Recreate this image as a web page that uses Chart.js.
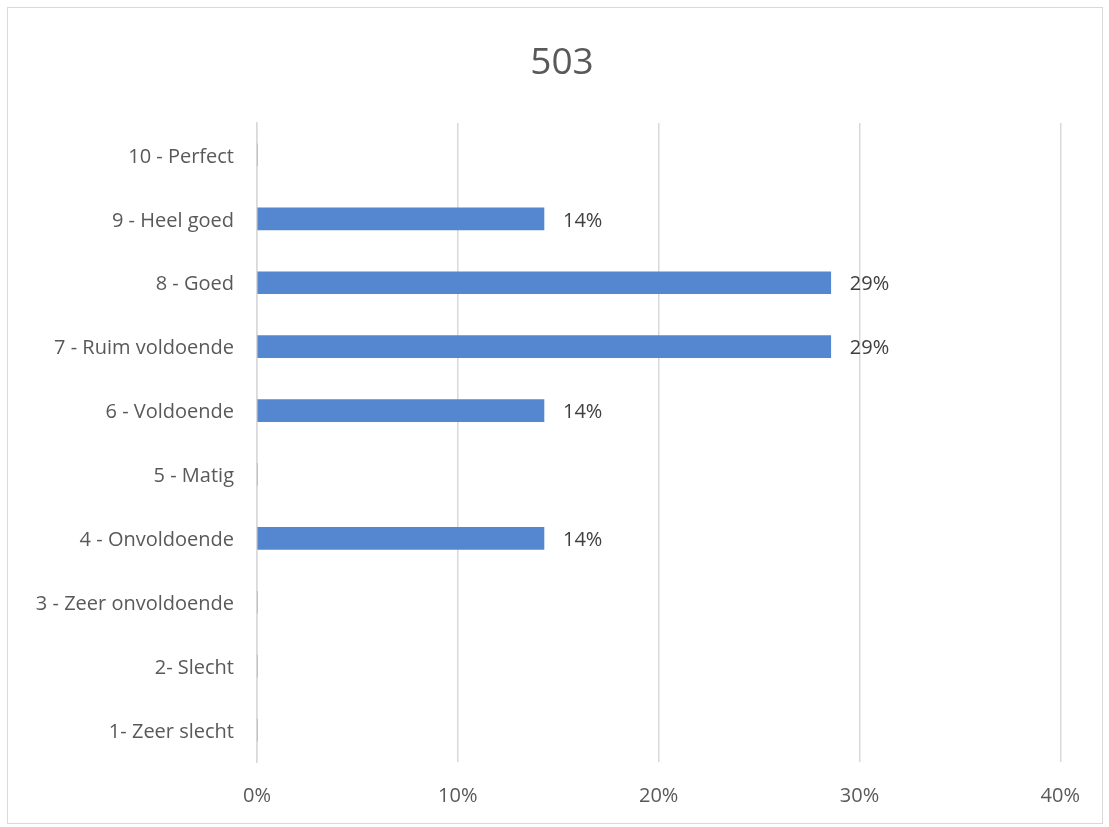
<!DOCTYPE html>
<html lang="nl">
<head>
  <meta charset="UTF-8">
  <title>503</title>
  <script src="https://cdn.jsdelivr.net/npm/chart.js"></script>
  <style>
    body { margin: 0; background: #fff; }
    #wrap {
      position: absolute; left: 7px; top: 7px;
      width: 1094px; height: 815px;
      border: 1px solid #d9d9d9; background: #fff;
    }
  </style>
</head>
<body>
  <div id="wrap"><canvas id="chart"></canvas></div>

  <script>
    const chartTitle = '503';
    const categories = [
      '10 - Perfect', '9 - Heel goed', '8 - Goed', '7 - Ruim voldoende', '6 - Voldoende',
      '5 - Matig', '4 - Onvoldoende', '3 - Zeer onvoldoende', '2- Slecht', '1- Zeer slecht'
    ];
    const percentages = [0, 14.29, 28.57, 28.57, 14.29, 0, 14.29, 0, 0, 0];
    const xTicks = [0, 10, 20, 30, 40];

    const FONT = '"Open Sans", sans-serif';

    // draws "14%" style labels just right of each bar
    const barLabels = {
      id: 'barLabels',
      afterDatasetsDraw(chart) {
        const ctx = chart.ctx;
        const meta = chart.getDatasetMeta(0);
        ctx.save();
        ctx.font = '20px ' + FONT;
        ctx.fillStyle = '#404040';
        ctx.textBaseline = 'middle';
        ctx.textAlign = 'left';
        meta.data.forEach((bar, i) => {
          const v = percentages[i];
          if (!v) return;
          ctx.fillText(Math.round(v) + '%', bar.x + 19, bar.y + 2);
        });
        ctx.restore();
      }
    };

    // title centred on the whole frame (not on the plot), like the original
    const frameTitle = {
      id: 'frameTitle',
      afterDraw(chart) {
        const ctx = chart.ctx;
        ctx.save();
        ctx.font = '37px ' + FONT;
        ctx.fillStyle = '#595959';
        ctx.textAlign = 'center';
        ctx.textBaseline = 'middle';
        ctx.fillText(chartTitle, chart.width / 2 + 7, 55);
        ctx.restore();
      }
    };

    new Chart(document.getElementById('chart'), {
      type: 'bar',
      data: {
        labels: categories,
        datasets: [{
          data: percentages,
          backgroundColor: '#5587d0',
          barThickness: 22
        }]
      },
      options: {
        indexAxis: 'y',
        responsive: true,
        maintainAspectRatio: false,
        animation: false,
        layout: { padding: { top: 115, right: 41, left: 0, bottom: 0 } },
        plugins: {
          legend: { display: false },
          tooltip: { enabled: false },
          title: { display: false }
        },
        scales: {
          x: {
            min: xTicks[0],
            max: xTicks[xTicks.length - 1],
            afterBuildTicks(scale) { scale.ticks = xTicks.map(v => ({ value: v })); },
            afterFit(scale) { scale.height = 61; },
            border: { display: false },
            grid: { color: '#d9d9d9', lineWidth: 1.5, drawTicks: false },
            ticks: {
              padding: 22,
              color: '#595959',
              font: { family: FONT, size: 20 },
              callback: v => v + '%'
            }
          },
          y: {
            afterFit(scale) { scale.width = 249; },
            border: { display: true, color: '#d9d9d9', width: 1.5 },
            grid: { display: false, drawTicks: false },
            ticks: {
              padding: 23,
              labelOffset: 2,
              color: '#595959',
              font: { family: FONT, size: 20 }
            }
          }
        }
      },
      plugins: [barLabels, frameTitle]
    });
  </script>
</body>
</html>
